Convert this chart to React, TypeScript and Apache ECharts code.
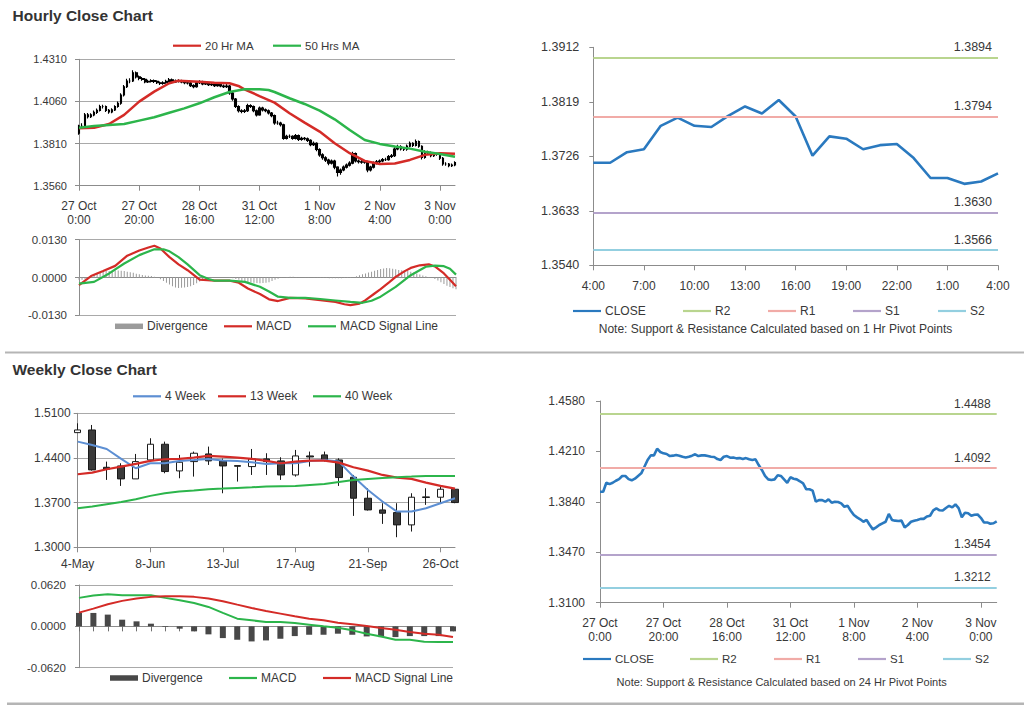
import React, { useEffect, useRef } from 'react';
import * as echarts from 'echarts';

// ---------- Hourly data (27 Oct 0:00 .. 3 Nov 5:00) ----------
const hourlyTickLabels = ['27 Oct\n0:00', '27 Oct\n20:00', '28 Oct\n16:00', '31 Oct\n12:00', '1 Nov\n8:00', '2 Nov\n4:00', '3 Nov\n0:00'];
const hourlyPriceTicks = [1.356, 1.381, 1.406, 1.431];

const hourlyOpen = [
  1.3872, 1.3914, 1.3914, 1.398, 1.397, 1.398, 1.3995, 1.4007, 1.403, 1.403,
  1.4007, 1.3998, 1.401, 1.403, 1.4049, 1.4098, 1.4147, 1.4181, 1.4181, 1.423,
  1.4206, 1.4196, 1.4191, 1.4176, 1.4179, 1.4184, 1.4179, 1.4171, 1.4166, 1.4171,
  1.4179, 1.4189, 1.4176, 1.4181, 1.4181, 1.4176, 1.4171, 1.4169, 1.4154, 1.4147,
  1.4171, 1.4176, 1.4164, 1.4166, 1.4159, 1.4161, 1.4154, 1.4161, 1.4152, 1.4147,
  1.4152, 1.411, 1.4074, 1.403, 1.4005, 1.4, 1.4005, 1.4035, 1.403, 1.4005,
  1.398, 1.402, 1.401, 1.4005, 1.3991, 1.3976, 1.3932, 1.3932, 1.3922, 1.3841,
  1.3853, 1.3853, 1.3841, 1.3858, 1.3834, 1.3841, 1.3839, 1.3829, 1.3804, 1.3812,
  1.3775, 1.3743, 1.3726, 1.3712, 1.3694, 1.3707, 1.367, 1.3638, 1.3653, 1.367,
  1.3682, 1.3694, 1.3751, 1.3707, 1.3702, 1.37, 1.3702, 1.3653, 1.367, 1.3694,
  1.3702, 1.3707, 1.3715, 1.3715, 1.3733, 1.3738, 1.3778, 1.3792, 1.3778, 1.3776,
  1.3795, 1.3811, 1.3799, 1.3822, 1.3794, 1.3727, 1.376, 1.3756, 1.3738, 1.3745,
  1.3747, 1.3723, 1.3689, 1.3689, 1.3679, 1.3683,
];
const hourlyClose = [
  1.3914, 1.3914, 1.398, 1.397, 1.398, 1.3995, 1.4007, 1.403, 1.403, 1.4007,
  1.3998, 1.401, 1.403, 1.4049, 1.4098, 1.4147, 1.4181, 1.4181, 1.423, 1.4206,
  1.4196, 1.4191, 1.4176, 1.4179, 1.4184, 1.4179, 1.4171, 1.4166, 1.4171, 1.4179,
  1.4189, 1.4176, 1.4181, 1.4181, 1.4176, 1.4171, 1.4169, 1.4154, 1.4147, 1.4171,
  1.4176, 1.4164, 1.4166, 1.4159, 1.4161, 1.4154, 1.4161, 1.4152, 1.4147, 1.4152,
  1.411, 1.4074, 1.403, 1.4005, 1.4, 1.4005, 1.4035, 1.403, 1.4005, 1.398,
  1.402, 1.401, 1.4005, 1.3991, 1.3976, 1.3932, 1.3932, 1.3922, 1.3841, 1.3853,
  1.3853, 1.3841, 1.3858, 1.3834, 1.3841, 1.3839, 1.3829, 1.3804, 1.3812, 1.3775,
  1.3743, 1.3726, 1.3712, 1.3694, 1.3707, 1.367, 1.3638, 1.3653, 1.367, 1.3682,
  1.3694, 1.3751, 1.3707, 1.3702, 1.37, 1.3702, 1.3653, 1.367, 1.3694, 1.3702,
  1.3707, 1.3715, 1.3715, 1.3733, 1.3738, 1.3778, 1.3792, 1.3778, 1.3776, 1.3795,
  1.3811, 1.3799, 1.3822, 1.3794, 1.3727, 1.376, 1.3756, 1.3738, 1.3745, 1.3747,
  1.3723, 1.3689, 1.3689, 1.3679, 1.3683, 1.3697,
];
const hourlyHigh = [
  1.3922, 1.393, 1.3992, 1.3991, 1.399, 1.4006, 1.4018, 1.404, 1.4041, 1.4036,
  1.4015, 1.4019, 1.4038, 1.406, 1.4108, 1.4158, 1.4195, 1.4198, 1.4245, 1.4238,
  1.4214, 1.4205, 1.4199, 1.4188, 1.4192, 1.419, 1.4186, 1.4178, 1.418, 1.4188,
  1.4199, 1.4196, 1.419, 1.4192, 1.4188, 1.4183, 1.418, 1.4175, 1.4162, 1.418,
  1.4186, 1.4182, 1.4175, 1.4172, 1.4169, 1.4168, 1.417, 1.4167, 1.416, 1.417,
  1.4158, 1.4116, 1.408, 1.4038, 1.4014, 1.4015, 1.4046, 1.4044, 1.4036, 1.4012,
  1.403, 1.4028, 1.4018, 1.4012, 1.3998, 1.3982, 1.3945, 1.394, 1.3928, 1.3862,
  1.3864, 1.386, 1.3867, 1.3864, 1.385, 1.3849, 1.3846, 1.3835, 1.3822, 1.3818,
  1.3782, 1.3752, 1.3735, 1.372, 1.3716, 1.3714, 1.3676, 1.3662, 1.368, 1.3692,
  1.3705, 1.3762, 1.3757, 1.3715, 1.3712, 1.3711, 1.3708, 1.3679, 1.3703, 1.3712,
  1.3716, 1.3724, 1.3726, 1.3742, 1.3748, 1.3788, 1.3803, 1.38, 1.3788, 1.3805,
  1.3822, 1.3818, 1.3834, 1.3828, 1.38, 1.377, 1.3768, 1.3763, 1.3754, 1.3756,
  1.3753, 1.373, 1.3699, 1.3695, 1.3692, 1.3705,
];
const hourlyLow = [
  1.3862, 1.3898, 1.3905, 1.3958, 1.3962, 1.3972, 1.3986, 1.4, 1.4018, 1.3998,
  1.3987, 1.399, 1.4003, 1.4022, 1.404, 1.409, 1.414, 1.4168, 1.4175, 1.4196,
  1.4186, 1.4182, 1.4168, 1.4169, 1.4172, 1.417, 1.4163, 1.4158, 1.4159, 1.4165,
  1.4172, 1.4168, 1.417, 1.4172, 1.4168, 1.4162, 1.416, 1.4146, 1.4138, 1.4141,
  1.4164, 1.4156, 1.4157, 1.4151, 1.4152, 1.4146, 1.4147, 1.4144, 1.4139, 1.414,
  1.41, 1.4064, 1.4021, 1.3995, 1.399, 1.3992, 1.3998, 1.4021, 1.3996, 1.397,
  1.3975, 1.4001, 1.3996, 1.3982, 1.3966, 1.3922, 1.3921, 1.3912, 1.3832, 1.3834,
  1.3843, 1.3832, 1.3834, 1.3825, 1.3826, 1.383, 1.3819, 1.3794, 1.3796, 1.3765,
  1.3732, 1.3714, 1.37, 1.3682, 1.3686, 1.3658, 1.3615, 1.3625, 1.3645, 1.3662,
  1.3674, 1.3688, 1.3698, 1.3692, 1.369, 1.369, 1.364, 1.3644, 1.3662, 1.3686,
  1.3694, 1.3699, 1.3706, 1.3708, 1.3725, 1.373, 1.377, 1.3769, 1.3766, 1.3768,
  1.3788, 1.379, 1.3792, 1.3785, 1.3716, 1.372, 1.3746, 1.3729, 1.373, 1.3737,
  1.3713, 1.3679, 1.3679, 1.367, 1.3671, 1.3676,
];
// [hour index, value]
const ma20Hr = [
  [0, 1.3901], [5, 1.3904], [10, 1.3926], [15, 1.398], [20, 1.4059], [25, 1.4118], [30, 1.4168], [33, 1.4183],
  [40, 1.4177], [45, 1.4171], [50, 1.4168], [53, 1.4152], [55, 1.4132], [60, 1.4092], [65, 1.4053], [70, 1.399],
  [75, 1.3934], [80, 1.3881], [85, 1.3812], [90, 1.3753], [95, 1.3707], [100, 1.3689], [105, 1.3692], [110, 1.3713],
  [115, 1.3743], [120, 1.3753], [125, 1.3749],
];
const ma50Hr = [
  [0, 1.3904], [5, 1.3914], [10, 1.392], [15, 1.3926], [20, 1.3946], [25, 1.3966], [30, 1.3993], [35, 1.4019],
  [40, 1.4049], [45, 1.4085], [50, 1.4116], [55, 1.4132], [60, 1.4132], [63, 1.4128], [65, 1.4116], [70, 1.4079],
  [75, 1.4045], [80, 1.4005], [85, 1.3954], [90, 1.3891], [95, 1.3831], [100, 1.3808], [105, 1.3792], [110, 1.378],
  [115, 1.3762], [120, 1.3748], [125, 1.3732],
];
const hourlyMacd = [
  [0, -0.0026], [4, 0.0005], [8, 0.0022], [12, 0.004], [16, 0.0075], [20, 0.0093], [23, 0.0103], [25, 0.0109],
  [27, 0.01], [30, 0.007], [33, 0.0045], [36, 0.0025], [40, -0.0007], [45, -0.0011], [50, -0.0011], [53, -0.0018],
  [56, -0.0038], [60, -0.0057], [63, -0.0075], [66, -0.0081], [70, -0.007], [75, -0.0072], [80, -0.0078], [85, -0.0084],
  [88, -0.0092], [90, -0.0095], [93, -0.009], [95, -0.0078], [98, -0.0055], [100, -0.004], [103, -0.0015], [105, 0.0002],
  [108, 0.0022], [110, 0.0033], [113, 0.0042], [116, 0.0045], [118, 0.0038], [121, 0.0014], [123, -0.0008], [125, -0.003],
];
const hourlySignal = [
  [0, -0.0021], [5, -0.0015], [10, 0.0014], [15, 0.0048], [20, 0.0077], [25, 0.0097], [28, 0.0097], [30, 0.009],
  [33, 0.007], [36, 0.0045], [40, 0.0008], [43, -0.0005], [45, -0.0011], [50, -0.0011], [55, -0.0015], [60, -0.0032],
  [63, -0.0048], [66, -0.0066], [70, -0.007], [75, -0.007], [80, -0.0074], [85, -0.0079], [90, -0.0084], [94, -0.0087],
  [97, -0.008], [100, -0.0066], [105, -0.0032], [110, 0.0008], [115, 0.0037], [118, 0.0041], [121, 0.0039], [123, 0.003],
  [125, 0.001],
];
const hourlyDivergence = [
  -0.0008, -0.0008, -0.0006, 0.0002, 0.0008, 0.0012, 0.0016, 0.0019, 0.0021, 0.0022,
  0.0022, 0.0023, 0.0024, 0.0024, 0.0023, 0.0022, 0.002, 0.0018, 0.0016, 0.0013,
  0.0011, 0.0009, 0.0007, 0.0006, 0.0005, 0.0003, 0.0, -0.0006, -0.0012, -0.0018,
  -0.0024, -0.003, -0.0034, -0.0036, -0.0035, -0.0034, -0.0033, -0.003, -0.0026, -0.002,
  -0.0014, -0.0009, -0.0005, -0.0002, -0.0001, 0.0, 0.0, 0.0, 0.0, 0.0,
  -0.0001, -0.0003, -0.0005, -0.0008, -0.0011, -0.0014, -0.0016, -0.0017, -0.0018, -0.0019,
  -0.002, -0.0019, -0.0018, -0.0016, -0.0012, -0.0008, -0.0004, -0.0001, 0.0, 0.0002,
  0.0003, 0.0003, 0.0002, 0.0001, 0.0, 0.0001, 0.0001, 0.0, -0.0001, -0.0001,
  -0.0002, -0.0002, -0.0002, -0.0003, -0.0003, -0.0003, -0.0003, -0.0003, -0.0002, -0.0002,
  -0.0002, 0.0, 0.0004, 0.0008, 0.0011, 0.0014, 0.0017, 0.002, 0.0023, 0.0026,
  0.0029, 0.0031, 0.0033, 0.0032, 0.003, 0.0028, 0.0026, 0.0025, 0.0024, 0.0022,
  0.002, 0.0017, 0.0014, 0.001, 0.0007, 0.0004, 0.0002, 0.0, -0.0005, -0.001,
  -0.0016, -0.0022, -0.0028, -0.0033, -0.0037, -0.004,
];

// ---------- 1 Hr pivot chart ----------
const pivotHourLabels = ['4:00', '5:00', '6:00', '7:00', '8:00', '9:00', '10:00', '11:00', '12:00', '13:00', '14:00', '15:00', '16:00', '17:00', '18:00', '19:00', '20:00', '21:00', '22:00', '23:00', '0:00', '1:00', '2:00', '3:00', '4:00'];
const pivotNames = ['R2', 'R1', 'S1', 'S2'];
const hourPivotLevels = [1.3894, 1.3794, 1.363, 1.3566];
const hourPivotTicks = [1.354, 1.3633, 1.3726, 1.3819, 1.3912];
// ---------- 24 Hr pivot chart ----------
const dayPivotLevels = [1.4488, 1.4092, 1.3454, 1.3212];
const dayPivotTicks = [1.31, 1.347, 1.384, 1.421, 1.458];

// ---------- Weekly data ----------
const weeklyDates = ['4-May', '11-May', '18-May', '25-May', '1-Jun', '8-Jun', '15-Jun', '22-Jun', '29-Jun', '6-Jul', '13-Jul', '20-Jul', '27-Jul', '3-Aug', '10-Aug', '17-Aug', '24-Aug', '31-Aug', '7-Sep', '14-Sep', '21-Sep', '28-Sep', '5-Oct', '12-Oct', '19-Oct', '26-Oct', '2-Nov'];
const weeklyPriceTicks = [1.3, 1.37, 1.44, 1.51];
const weeklyOpen = [1.4797, 1.4839, 1.4254, 1.4275, 1.4072, 1.4369, 1.4615, 1.4197, 1.4343, 1.4463, 1.4354, 1.428, 1.4265, 1.4385, 1.4354, 1.4134, 1.4432, 1.4448, 1.4369, 1.4098, 1.3769, 1.3586, 1.3544, 1.3351, 1.378, 1.3785, 1.391];
const weeklyClose = [1.4839, 1.4213, 1.4223, 1.4072, 1.4343, 1.4615, 1.4187, 1.4333, 1.4474, 1.4354, 1.4275, 1.427, 1.4385, 1.4343, 1.4134, 1.4432, 1.4416, 1.4369, 1.4093, 1.3769, 1.3586, 1.3534, 1.3351, 1.3785, 1.379, 1.391, 1.3701];
const weeklyLow = [1.4797, 1.4202, 1.4056, 1.3962, 1.4072, 1.4369, 1.416, 1.4082, 1.4108, 1.4291, 1.3847, 1.403, 1.4134, 1.4134, 1.4056, 1.4108, 1.4265, 1.4343, 1.3962, 1.3492, 1.3576, 1.3367, 1.3158, 1.3247, 1.3665, 1.368, 1.3691];
const weeklyHigh = [1.4943, 1.4917, 1.4343, 1.4317, 1.4463, 1.4709, 1.4656, 1.4448, 1.45, 1.4578, 1.439, 1.428, 1.4541, 1.4474, 1.4411, 1.4526, 1.45, 1.45, 1.4395, 1.4134, 1.3926, 1.3691, 1.3691, 1.3847, 1.3926, 1.3962, 1.3926];
const week4 = [1.4656, 1.4604, 1.4541, 1.4385, 1.4239, 1.4317, 1.4317, 1.4354, 1.4369, 1.4385, 1.4359, 1.4354, 1.4333, 1.4307, 1.4317, 1.4317, 1.4354, 1.4369, 1.4343, 1.4108, 1.3899, 1.3717, 1.356, 1.356, 1.3612, 1.3691, 1.3769];
const week13 = [1.4145, 1.4171, 1.4223, 1.4265, 1.4307, 1.4354, 1.438, 1.4385, 1.4406, 1.4432, 1.4421, 1.4406, 1.4385, 1.4354, 1.4317, 1.4343, 1.4359, 1.4359, 1.4327, 1.4254, 1.4202, 1.4134, 1.4093, 1.4072, 1.4014, 1.3962, 1.392];
const week40 = [1.3612, 1.3638, 1.3675, 1.3711, 1.3753, 1.3806, 1.3847, 1.3873, 1.3889, 1.391, 1.392, 1.3931, 1.3941, 1.3952, 1.3957, 1.3962, 1.3978, 1.3993, 1.4025, 1.4056, 1.4072, 1.4087, 1.4098, 1.4108, 1.4119, 1.4119, 1.4119];
const weeklyMacd = [0.0427, 0.0462, 0.0482, 0.0467, 0.0467, 0.0467, 0.0427, 0.0392, 0.0351, 0.0291, 0.0201, 0.0115, 0.009, 0.0065, 0.0065, 0.005, 0.0025, 0.0, -0.002, -0.006, -0.011, -0.0151, -0.0201, -0.0201, -0.0231, -0.0236, -0.0236];
const weeklySignal = [0.0206, 0.0266, 0.0331, 0.0382, 0.0417, 0.0442, 0.0452, 0.0452, 0.0442, 0.0417, 0.0377, 0.0326, 0.0276, 0.0231, 0.0191, 0.0151, 0.0115, 0.009, 0.0055, 0.003, 0.0005, -0.0025, -0.005, -0.0085, -0.011, -0.0126, -0.0161];
const weeklyDivergence = [0.0201, 0.0201, 0.0176, 0.01, 0.0075, 0.004, -0.001, -0.0035, -0.0075, -0.012, -0.0176, -0.0201, -0.0226, -0.0211, -0.0186, -0.0146, -0.0126, -0.0126, -0.011, -0.0126, -0.0151, -0.0161, -0.0161, -0.0146, -0.0146, -0.0146, -0.0075];

// ---------- styles ----------
const FONT = "'Liberation Sans', Arial, Helvetica, sans-serif";
const TXT = '#383838';
const AXIS = '#8c8c8c';
const GRIDC = '#a9a9a9';
const RED = '#d42b27';
const GREEN = '#2cb54b';
const BLUE = '#2a79bf';
const LIGHTBLUE = '#5d8fd3';
const pivotColors = ['#b9d58f', '#f1aba7', '#b4a3cb', '#93cfe0'];
const LINE_ICON = 'path://M0 0H28V2.2H0Z';
const BAR_ICON = 'path://M0 0H28V5.5H0Z';

const hourCats = hourlyClose.map((_, i) => String(i));

function App() {
  const ref = useRef<HTMLDivElement>(null);

  useEffect(() => {
    if (!ref.current) return;
    const chart = echarts.init(ref.current, null, { renderer: 'svg' });

    const grids = [
      { left: 79, top: 59.3, width: 376, height: 126.4 },
      { left: 79, top: 239.7, width: 377, height: 75.6 },
      { left: 593.3, top: 47.3, width: 404.7, height: 218 },
      { left: 77.7, top: 413.3, width: 377.3, height: 134 },
      { left: 79, top: 585, width: 374, height: 82.7 },
      { left: 600, top: 401, width: 396.7, height: 201.7 },
    ].map((g) => ({ ...g, containLabel: false, outerBoundsMode: 'none', show: false }));

    const axisLine = { show: true, onZero: false, lineStyle: { color: AXIS, width: 1 } };
    const lbl = (fontSize: number, margin: number, extra: any = {}) => ({
      show: true, fontSize, margin, color: TXT, fontFamily: FONT, ...extra,
    });
    const hourLabelFmt = (_v: any, i: number) => (i % 20 === 0 ? hourlyTickLabels[i / 20] : '');

    const xAxes: any[] = [
      { gridIndex: 0, type: 'category', data: hourCats, boundaryGap: false, axisLine,
        axisTick: { show: true, interval: 19, length: 5, lineStyle: { color: AXIS } },
        axisLabel: lbl(12, 13, { interval: 19, formatter: hourLabelFmt, lineHeight: 14 }), splitLine: { show: false } },
      { gridIndex: 1, type: 'category', data: hourCats, boundaryGap: false,
        axisLine: { show: true, onZero: true, lineStyle: { color: AXIS } },
        axisTick: { show: false }, axisLabel: { show: false }, splitLine: { show: false } },
      { gridIndex: 2, type: 'category', data: pivotHourLabels, boundaryGap: false, axisLine,
        axisTick: { show: true, interval: 2, length: 5, lineStyle: { color: AXIS } },
        axisLabel: lbl(12, 15, { interval: 2, formatter: (_v: any, i: number) => pivotHourLabels[i] }), splitLine: { show: false } },
      { gridIndex: 3, type: 'category', data: weeklyDates, boundaryGap: false, axisLine,
        axisTick: { show: true, interval: 4, length: 5, lineStyle: { color: AXIS } },
        axisLabel: lbl(12, 11, { interval: 4 }), splitLine: { show: false } },
      { gridIndex: 4, type: 'category', data: weeklyDates, boundaryGap: false,
        axisLine: { show: true, onZero: true, lineStyle: { color: AXIS } },
        axisTick: { show: true, interval: 0, length: 5, lineStyle: { color: '#707070' } },
        axisLabel: { show: false }, splitLine: { show: false } },
      { gridIndex: 5, type: 'category', data: hourCats, boundaryGap: false, axisLine,
        axisTick: { show: true, interval: 19, length: 5, lineStyle: { color: AXIS } },
        axisLabel: lbl(12, 13.5, { interval: 19, formatter: hourLabelFmt, lineHeight: 14 }), splitLine: { show: false } },
    ];

    const yTick = (vals?: number[]) => ({ show: true, length: 4, lineStyle: { color: AXIS }, ...(vals ? { customValues: vals } : {}) });
    const fmt4 = (v: number) => v.toFixed(4);
    const yAxes: any[] = [
      { gridIndex: 0, type: 'value', min: 1.356, max: 1.431, axisLine, axisTick: yTick(hourlyPriceTicks),
        axisLabel: lbl(11, 12, { customValues: hourlyPriceTicks, formatter: fmt4 }),
        splitLine: { show: true, lineStyle: { color: GRIDC } } },
      { gridIndex: 1, type: 'value', min: -0.013, max: 0.013, interval: 0.013, axisLine, axisTick: yTick(),
        axisLabel: lbl(11.5, 12, { formatter: fmt4 }), splitLine: { show: true, lineStyle: { color: GRIDC } } },
      { gridIndex: 2, type: 'value', min: 1.354, max: 1.3912, axisLine, axisTick: yTick(hourPivotTicks),
        axisLabel: lbl(12.5, 14, { customValues: hourPivotTicks, formatter: fmt4 }), splitLine: { show: false } },
      { gridIndex: 3, type: 'value', min: 1.3, max: 1.51, axisLine, axisTick: yTick(weeklyPriceTicks),
        axisLabel: lbl(12, 7, { customValues: weeklyPriceTicks, formatter: fmt4 }),
        splitLine: { show: true, lineStyle: { color: GRIDC } } },
      { gridIndex: 4, type: 'value', min: -0.062, max: 0.062, interval: 0.062, axisLine, axisTick: yTick(),
        axisLabel: lbl(11.5, 13, { formatter: fmt4 }), splitLine: { show: true, lineStyle: { color: GRIDC } } },
      { gridIndex: 5, type: 'value', min: 1.31, max: 1.458, axisLine, axisTick: yTick(dayPivotTicks),
        axisLabel: lbl(12, 15, { customValues: dayPivotTicks, formatter: fmt4 }), splitLine: { show: false } },
    ];

    const line = (name: string, ax: number, data: any[], color: string, width = 2) => ({
      name, type: 'line', xAxisIndex: ax, yAxisIndex: ax, data, color, symbol: 'none', showSymbol: false,
      lineStyle: { color, width }, itemStyle: { color }, silent: true, z: 3,
    });
    const pivotSeries = (suffix: string, ax: number, levels: number[], lastIdx: number, fontSize: number) =>
      pivotNames.map((n, k) => ({
        name: `${n}#${suffix}`, type: 'line', xAxisIndex: ax, yAxisIndex: ax, data: [],
        color: pivotColors[k], itemStyle: { color: pivotColors[k] }, symbol: 'none', z: 2,
        lineStyle: { color: pivotColors[k], width: 2 },
        markLine: {
          silent: true, symbol: 'none', animation: false, precision: 4,
          data: [[{ coord: [0, levels[k]] }, { coord: [lastIdx, levels[k]] }]],
          lineStyle: { color: pivotColors[k], width: 2, type: 'solid' },
          label: { show: true, position: 'insideEndTop', formatter: levels[k].toFixed(4), color: TXT, fontSize, fontFamily: FONT, distance: [6, 4] },
          emphasis: { disabled: true },
        },
      }));

    const series: any[] = [
      { name: 'hourlyCandles', type: 'candlestick', xAxisIndex: 0, yAxisIndex: 0, barWidth: 2.2, clip: false, silent: true,
        data: hourlyClose.map((c, i) => [hourlyOpen[i], c, hourlyLow[i], hourlyHigh[i]]),
        itemStyle: { color: '#000', color0: '#000', borderColor: '#000', borderColor0: '#000', borderWidth: 1.1 } },
      line('20 Hr MA', 0, ma20Hr, RED, 2.5),
      line('50 Hrs MA', 0, ma50Hr, GREEN, 2.5),
      { name: 'Divergence#h', type: 'bar', xAxisIndex: 1, yAxisIndex: 1, data: hourlyDivergence, barWidth: 1,
        color: '#9b9b9b', itemStyle: { color: '#9b9b9b' }, silent: true },
      line('MACD#h', 1, hourlyMacd, RED, 2.2),
      line('MACD Signal Line#h', 1, hourlySignal, GREEN, 2.2),
      line('CLOSE#h', 2, hourlyClose.slice(-pivotHourLabels.length), BLUE, 2.6),
      ...pivotSeries('h', 2, hourPivotLevels, pivotHourLabels.length - 1, 12.5),
      { name: 'weeklyCandles', type: 'candlestick', xAxisIndex: 3, yAxisIndex: 3, barWidth: 7, clip: false, silent: true,
        data: weeklyClose.map((c, i) => [weeklyOpen[i], c, weeklyLow[i], weeklyHigh[i]]),
        itemStyle: { color: '#ffffff', color0: '#3a3a3a', borderColor: '#1a1a1a', borderColor0: '#1a1a1a', borderWidth: 1 } },
      line('4 Week', 3, week4, LIGHTBLUE, 2),
      line('13 Week', 3, week13, RED, 2.2),
      line('40 Week', 3, week40, GREEN, 2),
      { name: 'Divergence#w', type: 'bar', xAxisIndex: 4, yAxisIndex: 4, data: weeklyDivergence, barWidth: 6,
        color: '#484848', itemStyle: { color: '#484848' }, silent: true },
      line('MACD#w', 4, weeklyMacd, GREEN, 2),
      line('MACD Signal Line#w', 4, weeklySignal, RED, 2),
      line('CLOSE#d', 5, hourlyClose, BLUE, 2.6),
      ...pivotSeries('d', 5, dayPivotLevels, hourCats.length - 1, 12),
    ];

    const legendItems: [string, number, number, number, boolean][] = [
      ['20 Hr MA', 173, 46.7, 11.5, false],
      ['50 Hrs MA', 273, 46.7, 11.5, false],
      ['Divergence#h', 115, 327.3, 12, true],
      ['MACD#h', 224, 327.3, 12, false],
      ['MACD Signal Line#h', 308, 327.3, 12, false],
      ['CLOSE#h', 573, 312, 12, false],
      ['R2#h', 683, 312, 12, false],
      ['R1#h', 768, 312, 12, false],
      ['S1#h', 853, 312, 12, false],
      ['S2#h', 938, 312, 12, false],
      ['4 Week', 133, 397.3, 12, false],
      ['13 Week', 218, 397.3, 12, false],
      ['40 Week', 313, 397.3, 12, false],
      ['Divergence#w', 110, 679, 12, true],
      ['MACD#w', 229, 679, 12, false],
      ['MACD Signal Line#w', 323, 679, 12, false],
      ['CLOSE#d', 583, 660, 11.5, false],
      ['R2#d', 690, 660, 11.5, false],
      ['R1#d', 774, 660, 11.5, false],
      ['S1#d', 858, 660, 11.5, false],
      ['S2#d', 943, 660, 11.5, false],
    ];
    const legends = legendItems.map(([name, x, cy, fs, isBar]) => ({
      data: [{ name, icon: isBar ? BAR_ICON : LINE_ICON }],
      left: x, top: cy - 7, padding: 0, itemWidth: 28, itemHeight: 14, itemGap: 0,
      selectedMode: false, symbolKeepAspect: true,
      formatter: (n: string) => n.split('#')[0],
      textStyle: { fontSize: fs, color: TXT, fontFamily: FONT, padding: [0, 0, 0, -1] },
    }));

    const graphic: any[] = [
      { type: 'text', left: 12.5, top: 7, style: { text: 'Hourly Close Chart', font: `bold 15.5px ${FONT}`, fill: '#333' } },
      { type: 'text', left: 12.5, top: 361, style: { text: 'Weekly Close Chart', font: `bold 15.5px ${FONT}`, fill: '#333' } },
      { type: 'rect', shape: { x: 5, y: 351.5, width: 1019, height: 2 }, style: { fill: '#b5b5b5' } },
      { type: 'rect', shape: { x: 7, y: 702.5, width: 1017, height: 2.5 }, style: { fill: '#b5b5b5' } },
      { type: 'text', x: 775.5, y: 329.3, style: { text: 'Note: Support & Resistance Calculated based on 1 Hr Pivot Points', font: `12px ${FONT}`, fill: TXT, align: 'center', verticalAlign: 'middle' } },
      { type: 'text', x: 781.7, y: 681.7, style: { text: 'Note: Support & Resistance Calculated based on 24 Hr Pivot Points', font: `11px ${FONT}`, fill: TXT, align: 'center', verticalAlign: 'middle' } },
    ];

    chart.setOption({
      animation: false,
      backgroundColor: '#ffffff',
      textStyle: { fontFamily: FONT },
      grid: grids,
      xAxis: xAxes,
      yAxis: yAxes,
      series,
      legend: legends,
      graphic,
    });

    return () => chart.dispose();
  }, []);

  return <div ref={ref} style={{ position: 'absolute', left: 0, top: 0, width: 1024, height: 706 }} />;
}

export default App;
